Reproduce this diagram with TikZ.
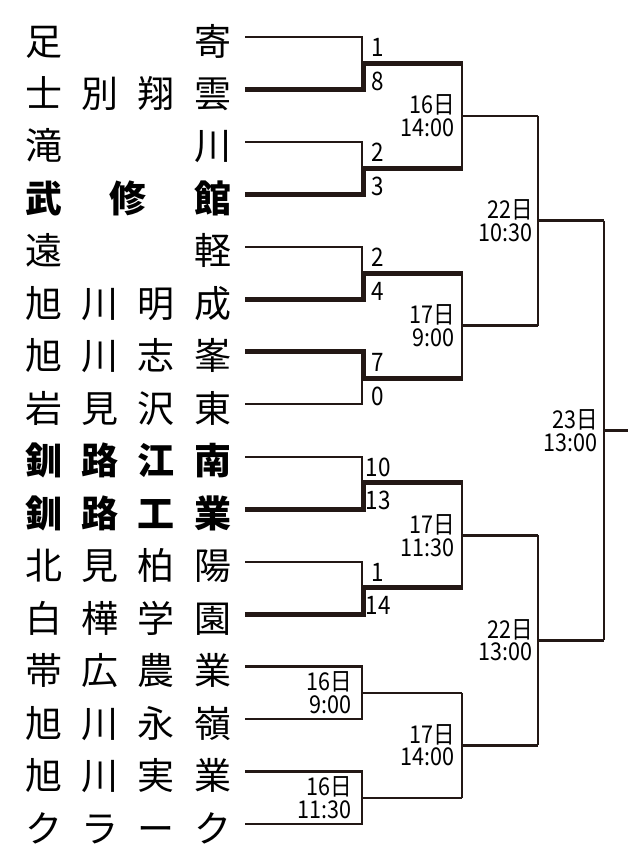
\documentclass[tikz,border=0pt]{standalone}
\usepackage{fontspec}
\setmainfont{Noto Sans CJK JP}
\newfontfamily\numfont[FakeStretch=0.88]{Noto Sans CJK JP}
\definecolor{ink}{HTML}{231815}
\tikzset{
  thinl/.style={draw=ink, line width=2.4pt, line join=miter},
  thickl/.style={draw=ink, line width=5pt, line join=miter},
  team/.style={anchor=west, inner sep=0pt, font=\fontsize{37}{37}\selectfont},
  bteam/.style={team, font=\fontsize{37}{37}\selectfont\bfseries},
  score/.style={anchor=base, inner sep=0pt, font=\numfont\fontsize{25.5}{25.5}\selectfont},
  when/.style={anchor=east, inner sep=0pt, align=right, font=\numfont\fontsize{24.5}{22.5}\selectfont}
}
\newcommand{\nm}[1]{\makebox[206pt][s]{#1}}
\begin{document}
\begin{tikzpicture}[x=1pt,y=-1pt]
\useasboundingbox (0,0) rectangle (639,858);
% coordinates
\foreach \i in {0,...,15} {
  \pgfmathsetmacro\yy{37+52.47*\i}
  \coordinate (L\i) at (245,\yy);
  \coordinate (J\i) at (362,\yy);
  \coordinate (K\i) at (363.5,\yy);
  \coordinate (N\i) at (25,\yy+4);
}
\foreach \k in {0,...,7} {
  \pgfmathsetmacro\yy{37+52.47*(2*\k+0.5)}
  \coordinate (P\k) at (362,\yy);
  \coordinate (PK\k) at (363.5,\yy);
  \coordinate (Q\k) at (462,\yy);
  \coordinate (QE\k) at (463.2,\yy);
  \coordinate (SA\k) at (378,\yy-6.5);
  \coordinate (SB\k) at (378,\yy+27);
  \coordinate (WA\k) at (352,\yy);
}
\foreach \q in {0,...,3} {
  \pgfmathsetmacro\yy{37+52.47*(4*\q+1.5)}
  \coordinate (R\q) at (462,\yy);
  \coordinate (S\q) at (538,\yy);
  \coordinate (WB\q) at (455,\yy);
}
\foreach \s in {0,1} {
  \pgfmathsetmacro\yy{37+52.47*(8*\s+3.5)}
  \coordinate (T\s) at (538,\yy);
  \coordinate (U\s) at (604,\yy);
  \coordinate (WC\s) at (533,\yy);
}
\pgfmathsetmacro\yf{37+52.47*7.5}
\coordinate (V) at (604,\yf);
\coordinate (W) at (628,\yf);
\coordinate (WD) at (598,\yf);

% team names
\node[team]  (t0)  at (N0)  {\nm{足\hfill 寄}};
\node[team]  (t1)  at (N1)  {\nm{士\hfill 別\hfill 翔\hfill 雲}};
\node[team]  (t2)  at (N2)  {\nm{滝\hfill 川}};
\node[bteam] (t3)  at (N3)  {\nm{武\hfill 修\hfill 館}};
\node[team]  (t4)  at (N4)  {\nm{遠\hfill 軽}};
\node[team]  (t5)  at (N5)  {\nm{旭\hfill 川\hfill 明\hfill 成}};
\node[team]  (t6)  at (N6)  {\nm{旭\hfill 川\hfill 志\hfill 峯}};
\node[team]  (t7)  at (N7)  {\nm{岩\hfill 見\hfill 沢\hfill 東}};
\node[bteam] (t8)  at (N8)  {\nm{釧\hfill 路\hfill 江\hfill 南}};
\node[bteam] (t9)  at (N9)  {\nm{釧\hfill 路\hfill 工\hfill 業}};
\node[team]  (t10) at (N10) {\nm{北\hfill 見\hfill 柏\hfill 陽}};
\node[team]  (t11) at (N11) {\nm{白\hfill 樺\hfill 学\hfill 園}};
\node[team]  (t12) at (N12) {\nm{帯\hfill 広\hfill 農\hfill 業}};
\node[team]  (t13) at (N13) {\nm{旭\hfill 川\hfill 永\hfill 嶺}};
\node[team]  (t14) at (N14) {\nm{旭\hfill 川\hfill 実\hfill 業}};
\node[team]  (t15) at (N15) {\nm{ク\hfill ラ\hfill ー\hfill ク}};

% first round: losers (thin) and winners (thick)
\draw[thinl] (L0) -- (J0) -- (P0);
\draw[thickl] (L1) -- (K1) -- (PK0) -- (QE0);
\draw[thinl] (L2) -- (J2) -- (P1);
\draw[thickl] (L3) -- (K3) -- (PK1) -- (QE1);
\draw[thinl] (L4) -- (J4) -- (P2);
\draw[thickl] (L5) -- (K5) -- (PK2) -- (QE2);
\draw[thinl] (L7) -- (J7) -- (P3);
\draw[thickl] (L6) -- (K6) -- (PK3) -- (QE3);
\draw[thinl] (L8) -- (J8) -- (P4);
\draw[thickl] (L9) -- (K9) -- (PK4) -- (QE4);
\draw[thinl] (L10) -- (J10) -- (P5);
\draw[thickl] (L11) -- (K11) -- (PK5) -- (QE5);
\draw[thinl] (L12) -- (J12) -- (J13) -- (L13);
\draw[thinl] (P6) -- (Q6);
\draw[thinl] (L14) -- (J14) -- (J15) -- (L15);
\draw[thinl] (P7) -- (Q7);

% second round
\draw[thinl] (Q0) -- (Q1); \draw[thinl] (R0) -- (S0);
\draw[thinl] (Q2) -- (Q3); \draw[thinl] (R1) -- (S1);
\draw[thinl] (Q4) -- (Q5); \draw[thinl] (R2) -- (S2);
\draw[thinl] (Q6) -- (Q7); \draw[thinl] (R3) -- (S3);
% third round
\draw[thinl] (S0) -- (S1); \draw[thinl] (T0) -- (U0);
\draw[thinl] (S2) -- (S3); \draw[thinl] (T1) -- (U1);
% final
\draw[thinl] (U0) -- (U1); \draw[thinl] (V) -- (W);

% scores
\node[score] (s0a) at (SA0) {1};  \node[score] (s0b) at (SB0) {8};
\node[score] (s1a) at (SA1) {2};  \node[score] (s1b) at (SB1) {3};
\node[score] (s2a) at (SA2) {2};  \node[score] (s2b) at (SB2) {4};
\node[score] (s3a) at (SA3) {7};  \node[score] (s3b) at (SB3) {0};
\node[score] (s4a) at (SA4) {10}; \node[score] (s4b) at (SB4) {13};
\node[score] (s5a) at (SA5) {1};  \node[score] (s5b) at (SB5) {14};

% dates and times
\node[when] (d6) at (WA6) {16日\\9:00};
\node[when] (d7) at (WA7) {16日\\11:30};
\node[when] (e0) at (WB0) {16日\\14:00};
\node[when] (e1) at (WB1) {17日\\9:00};
\node[when] (e2) at (WB2) {17日\\11:30};
\node[when] (e3) at (WB3) {17日\\14:00};
\node[when] (f0) at (WC0) {22日\\10:30};
\node[when] (f1) at (WC1) {22日\\13:00};
\node[when] (g0) at (WD) {23日\\13:00};
\end{tikzpicture}
\end{document}
